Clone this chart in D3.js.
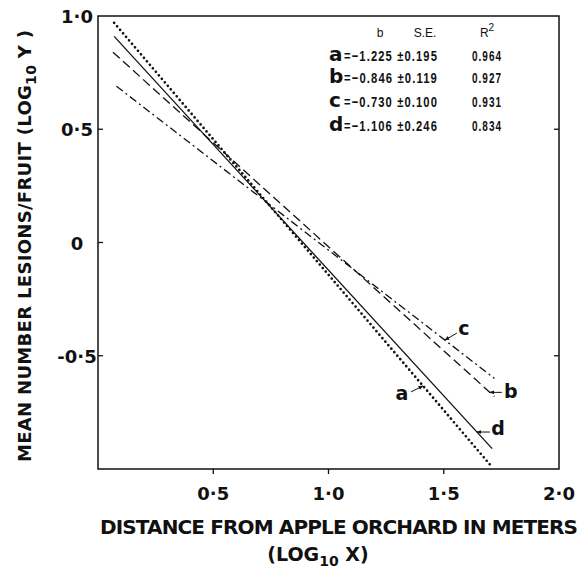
<!DOCTYPE html>
<html>
<head>
<meta charset="utf-8">
<script src="https://cdn.jsdelivr.net/npm/d3@7"></script>
<style>
  body { margin: 0; background: #fff; }
  text { fill: #111; }
</style>
</head>
<body>
<div id="chart"></div>
<script>
// regression lines, end points (log10 x, log10 y)
var lineIds = ["a", "b", "c", "d"];
var lineX0 = [0.07, 0.065, 0.08, 0.07];
var lineY0 = [0.97, 0.84, 0.69, 0.91];
var lineX1 = [1.70, 1.72, 1.72, 1.71];
var lineY1 = [-0.98, -0.68, -0.60, -0.91];
// where each letter's arrow touches its line (log10 x)
var tagX = [1.41, 1.70, 1.505, 1.644];

// table of fits
var slopes = ["\u22121.225", "\u22120.846", "\u22120.730", "\u22121.106"];
var stdErr = ["0.195", "0.119", "0.100", "0.246"];
var rSquared = ["0.964", "0.927", "0.931", "0.834"];

var xTicks = [0.5, 1.0, 1.5, 2.0];
var xTickLabels = ["0\u00b75", "1\u00b70", "1\u00b75", "2\u00b70"];
var yTicks = [1.0, 0.5, 0, -0.5];
var yTickLabels = ["1\u00b70", "0\u00b75", "0", "-0\u00b75"];

var width = 581, height = 570;
var margin = {top: 16, right: 22, bottom: 101, left: 98};
var boldFont = "'DejaVu Sans', sans-serif";
var numFont = "'Liberation Sans Narrow', 'Liberation Sans', sans-serif";

var svg = d3.select("#chart").append("svg")
    .attr("width", width)
    .attr("height", height);

var xa = d3.scaleLinear().domain([0, 2]).range([margin.left, width - margin.right]);
var ya = d3.scaleLinear().domain([-1, 1]).range([height - margin.bottom, margin.top]);

//frame
svg.append("rect")
    .attr("x", xa(0)).attr("y", ya(1))
    .attr("width", xa(2) - xa(0)).attr("height", ya(-1) - ya(1))
    .attr("fill", "none").attr("stroke", "#111").attr("stroke-width", 1.5);

//x ticks go outside, y ticks inside
svg.selectAll(".xtick").data(xTicks.slice(0, 3)).enter().append("line")
    .attr("x1", function(d) { return xa(d); }).attr("x2", function(d) { return xa(d); })
    .attr("y1", ya(-1)).attr("y2", ya(-1) + 5)
    .attr("stroke", "#111").attr("stroke-width", 1.3);
svg.selectAll(".ytick").data(yTicks.slice(1)).enter().append("line")
    .attr("x1", xa(0)).attr("x2", xa(0) + 5)
    .attr("y1", function(d) { return ya(d); }).attr("y2", function(d) { return ya(d); })
    .attr("stroke", "#111").attr("stroke-width", 1.3);
svg.selectAll(".rtick").data([0.5, -0.5]).enter().append("line")
    .attr("x1", xa(2)).attr("x2", xa(2) - 5)
    .attr("y1", function(d) { return ya(d); }).attr("y2", function(d) { return ya(d); })
    .attr("stroke", "#111").attr("stroke-width", 1.3);

svg.selectAll(".xlab").data(xTicks).enter().append("text")
    .attr("x", function(d) { return xa(d); })
    .attr("y", ya(-1) + 31)
    .attr("text-anchor", "middle")
    .style("font-family", boldFont).style("font-weight", "bold").style("font-size", "18px")
    .text(function(d, i) { return xTickLabels[i]; });
svg.selectAll(".ylab").data(yTicks).enter().append("text")
    .attr("x", xa(0) - 21)
    .attr("y", function(d) { return ya(d) + 7; })
    .attr("text-anchor", "middle")
    .style("font-family", boldFont).style("font-weight", "bold").style("font-size", "18px")
    .text(function(d, i) { return yTickLabels[i]; });

//axis titles
var xt = svg.append("text")
    .attr("x", 100).attr("y", 534)
    .attr("textLength", 478).attr("lengthAdjust", "spacing")
    .style("font-family", boldFont).style("font-weight", "bold").style("font-size", "20px")
    .text("DISTANCE  FROM  APPLE  ORCHARD  IN  METERS");
var xt2 = svg.append("text")
    .attr("x", 318).attr("y", 561)
    .attr("text-anchor", "middle")
    .style("font-family", boldFont).style("font-weight", "bold").style("font-size", "19px");
xt2.append("tspan").text("(LOG");
xt2.append("tspan").attr("dy", 5).style("font-size", "14px").text("10");
xt2.append("tspan").attr("dy", -5).text(" X)");

var yt = svg.append("text")
    .attr("transform", "translate(31,462) rotate(-90)")
    .attr("textLength", 432).attr("lengthAdjust", "spacing")
    .style("font-family", boldFont).style("font-weight", "bold").style("font-size", "18px");
yt.append("tspan").text("MEAN  NUMBER  LESIONS/FRUIT  (LOG");
yt.append("tspan").attr("dy", 5).style("font-size", "14px").text("10");
yt.append("tspan").attr("dy", -5).text(" Y )");

//the four lines
var dashes = {a: "0,4.6", b: "9,4.5", c: "8,3.5,2,3.5", d: null};
var widths = {a: 2.7, b: 1.3, c: 1.3, d: 1.3};
var lines = lineIds.map(function(id, i) {
    return {id: id, x0: lineX0[i], y0: lineY0[i], x1: lineX1[i], y1: lineY1[i], tx: tagX[i]};
});
svg.selectAll(".fit").data(lines).enter().append("line")
    .attr("class", "fit")
    .attr("x1", function(d) { return xa(d.x0); }).attr("y1", function(d) { return ya(d.y0); })
    .attr("x2", function(d) { return xa(d.x1); }).attr("y2", function(d) { return ya(d.y1); })
    .attr("stroke", "#111")
    .attr("stroke-width", function(d) { return widths[d.id]; })
    .attr("stroke-linecap", function(d) { return d.id == "a" ? "round" : "butt"; })
    .attr("stroke-dasharray", function(d) { return dashes[d.id]; });

//letter tags with little arrows
svg.append("defs").append("marker")
    .attr("id", "head").attr("viewBox", "0 0 10 10")
    .attr("refX", 9).attr("refY", 5)
    .attr("markerWidth", 5).attr("markerHeight", 5)
    .attr("orient", "auto")
    .append("path").attr("d", "M0,1 L10,5 L0,9 Z").attr("fill", "#111");

var tagOffset = {
    a: {tail: [-12, 6], label: [-21, 14]},
    b: {tail: [12, 0], label: [21, 6]},
    c: {tail: [12, -7], label: [19, -5]},
    d: {tail: [13, 0], label: [21, 3]}
};
lines.forEach(function(d) {
    var t = (d.tx - d.x0) / (d.x1 - d.x0);
    var px = xa(d.tx), py = ya(d.y0 + t * (d.y1 - d.y0));
    var o = tagOffset[d.id];
    svg.append("line")
        .attr("x1", px + o.tail[0]).attr("y1", py + o.tail[1])
        .attr("x2", px).attr("y2", py)
        .attr("stroke", "#111").attr("stroke-width", 1)
        .attr("marker-end", "url(#head)");
    svg.append("text")
        .attr("x", px + o.label[0]).attr("y", py + o.label[1])
        .attr("text-anchor", "middle")
        .style("font-family", boldFont).style("font-weight", "bold").style("font-size", "19px")
        .text(d.id);
});

//fit table
var tbl = svg.append("g");
[["b", 380], ["S.E.", 425]].forEach(function(h) {
    tbl.append("text").attr("x", h[1]).attr("y", 37).attr("text-anchor", "middle")
        .style("font-family", "'Liberation Sans', sans-serif").style("font-size", "12px")
        .text(h[0]);
});
var r2 = tbl.append("text").attr("x", 487).attr("y", 37).attr("text-anchor", "middle")
    .style("font-family", "'Liberation Sans', sans-serif").style("font-size", "12px");
r2.append("tspan").text("R");
r2.append("tspan").attr("dy", -6).style("font-size", "10px").text("2");

// condensed, spaced-out figures like the typewriter table
function num(x, y, s, len) {
    return tbl.append("text").attr("x", x).attr("y", y)
        .attr("textLength", len).attr("lengthAdjust", "spacingAndGlyphs")
        .style("font-family", numFont).style("font-weight", "bold").style("font-size", "15px")
        .style("letter-spacing", "1.5px")
        .text(s);
}

var rowY = [61, 83, 107, 131];
lineIds.forEach(function(id, i) {
    var y = rowY[i];
    tbl.append("text").attr("x", 329).attr("y", y)
        .style("font-family", boldFont).style("font-weight", "bold").style("font-size", "20px")
        .text(id);
    num(344, y, "=" + slopes[i] + " \u00b1" + stdErr[i], 94);
    num(472, y, rSquared[i], 30);
});
</script>
</body>
</html>
